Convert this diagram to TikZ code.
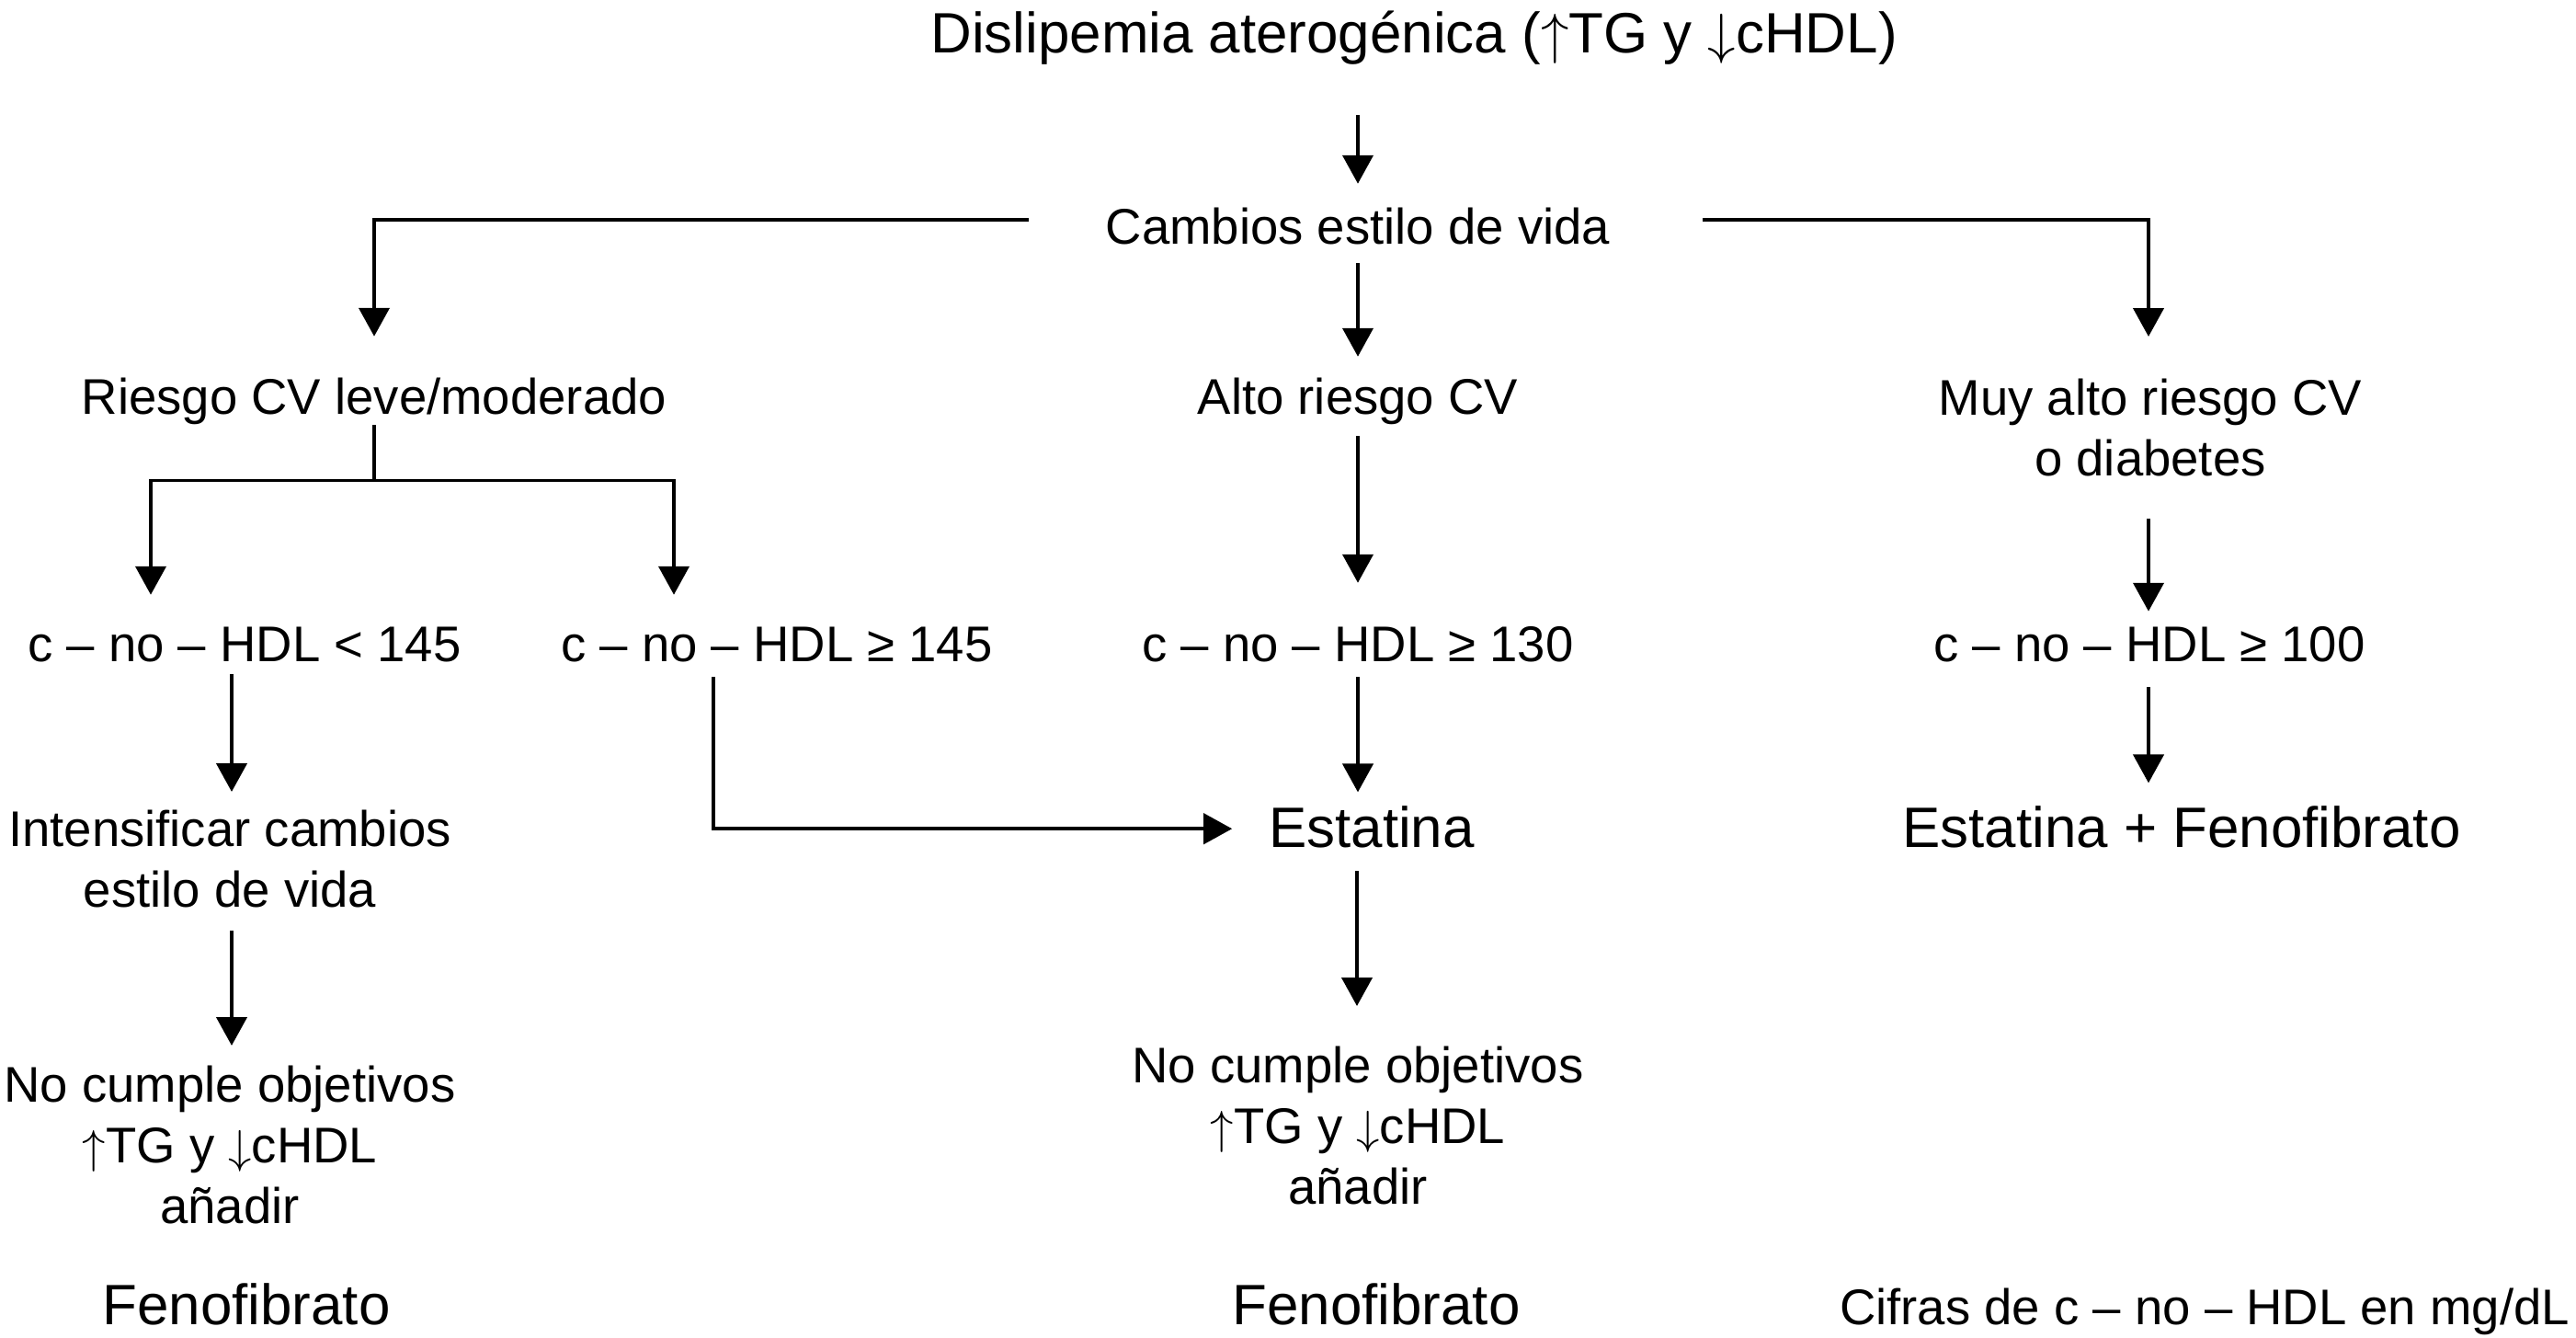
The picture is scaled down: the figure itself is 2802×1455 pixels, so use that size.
\documentclass[tikz,border=0pt]{standalone}
\usepackage{fontspec}
\setmainfont{Liberation Sans}
\usetikzlibrary{arrows.meta,calc}
\newcommand{\upar}{\ensuremath{\uparrow}}
\newcommand{\dnar}{\ensuremath{\downarrow}}
\begin{document}
\begin{tikzpicture}[x=0.01cm,y=-0.01cm,
  nl/.style={font=\fontsize{15.5}{18.7}\selectfont,inner sep=0pt,outer sep=0pt,anchor=base,text height=11.16pt,text depth=3.26pt},
  bl/.style={font=\fontsize{17.6}{21}\selectfont,inner sep=0pt,outer sep=0pt,anchor=base,text height=12.67pt,text depth=3.7pt},
  ml/.style={font=\fontsize{15.5}{18.7}\selectfont,inner sep=0pt,outer sep=0pt,anchor=north,align=center},
  arr/.style={line width=1.1pt,-{Triangle[length=8.8pt,width=9.4pt]}},
  ln/.style={line width=1.1pt}]
\useasboundingbox (0,0) rectangle (2802,1455);
% nodes
\node[bl] (title) at (1538,58) {Dislipemia aterogénica (\upar TG y \dnar cHDL)};
\node[nl] (cambios) at (1477,266) {Cambios estilo de vida};
\node[nl] (riesgo) at (407,451) {Riesgo CV leve/moderado};
\node[nl] (alto) at (1477,451) {Alto riesgo CV};
\node[ml] (muyalto) at (2339,412) {Muy alto riesgo CV\\o diabetes};
\node[nl] (lt145) at (266,719) {c – no – HDL < 145};
\node[nl] (ge145) at (845,719) {c – no – HDL ≥ 145};
\node[nl] (ge130) at (1477,719) {c – no – HDL ≥ 130};
\node[nl] (ge100) at (2338,719) {c – no – HDL ≥ 100};
\node[ml] (intens) at (250,881) {Intensificar cambios\\estilo de vida};
\node[bl] (estatina) at (1492,921) {Estatina};
\node[bl] (estfeno) at (2373,921) {Estatina + Fenofibrato};
\node[ml] (nocL) at (250,1159) {No cumple objetivos\\\upar TG y \dnar cHDL\\añadir};
\node[ml] (nocC) at (1477,1138) {No cumple objetivos\\\upar TG y \dnar cHDL\\añadir};
\node[bl] (fenoL) at (268,1440) {Fenofibrato};
\node[bl] (fenoC) at (1497,1440) {Fenofibrato};
\node[nl,anchor=base east] (cifras) at (2795,1440) {Cifras de c – no – HDL en mg/dL};
% connectors
\draw[arr] ($(title.south -| cambios.north)+(0,54)$) -- ($(cambios.north)+(0,-27)$);
\draw[arr] ($(cambios.west)+(-84,-13)$) -| ($(riesgo.north)+(0,-46)$);
\draw[arr] ($(cambios.east)+(101,-13)$) -| ($(muyalto.north)+(-2,-46)$);
\draw[arr] ($(cambios.south)+(0,9)$) -- ($(alto.north)+(0,-24)$);
\coordinate (rj) at ($(riesgo.south)+(0,60)$);
\draw[ln] (riesgo.south) -- (rj);
\draw[arr] (rj) -| ($(lt145.north)+(-102,-33)$);
\draw[arr] (rj) -| ($(ge145.north)+(-112,-33)$);
\draw[arr] ($(alto.south)+(0,12)$) -- ($(ge130.north)+(0,-46)$);
\draw[arr] ($(muyalto.south)+(-2,46)$) -- ($(ge100.north)+(-1,-15)$);
\draw[arr] ($(lt145.south -| intens.north)+(2,3)$) -- ($(intens.north)+(2,-20)$);
\draw[arr] ($(ge145.south)+(-69,6)$) |- ($(estatina.west)+(-40,-4)$);
\draw[arr] ($(ge130.south)+(0,6)$) -- ($(estatina.north -| ge130.south)+(0,-15)$);
\draw[arr] ($(ge100.south)+(-1,17)$) -- ($(estfeno.north -| ge100.south)+(-1,-25)$);
\draw[arr] ($(intens.south)+(2,25)$) -- ($(nocL.north)+(2,-22)$);
\draw[arr] ($(estatina.south -| nocC.north)+(-1,13)$) -- ($(nocC.north)+(-1,-44)$);
\end{tikzpicture}
\end{document}
